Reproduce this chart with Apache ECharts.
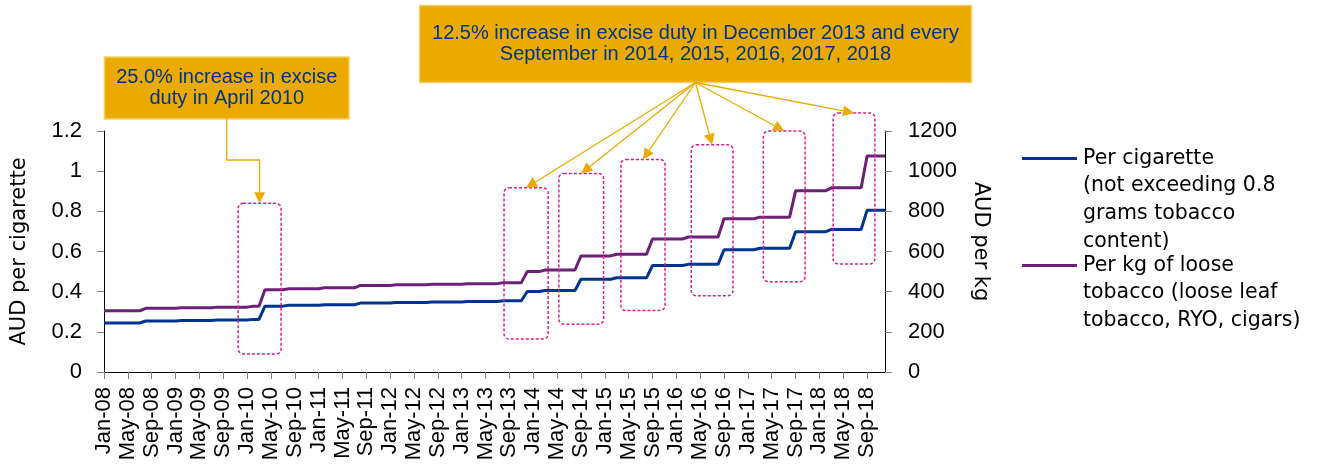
<!DOCTYPE html>
<html>
<head>
<meta charset="utf-8">
<script src="https://cdn.jsdelivr.net/npm/echarts@6/dist/echarts.min.js"></script>
<style>
  html, body { margin: 0; padding: 0; background: #fff; }
  #chart { width: 1327px; height: 466px; }
</style>
</head>
<body>
<div id="chart"></div>
<script>
// excise duty rates, monthly Jan-08 .. Dec-18

var months = ['Jan', 'Feb', 'Mar', 'Apr', 'May', 'Jun', 'Jul', 'Aug', 'Sep', 'Oct', 'Nov', 'Dec'];
var years = ['08', '09', '10', '11', '12', '13', '14', '15', '16', '17', '18'];

// AUD per cigarette (left axis)
var perCigarette = [
  0.244, 0.244, 0.244, 0.244, 0.244, 0.244, 0.244, 0.254, 0.254, 0.254, 0.254, 0.254,
  0.254, 0.256, 0.256, 0.256, 0.256, 0.256, 0.256, 0.259, 0.259, 0.259, 0.259, 0.259,
  0.259, 0.262, 0.262, 0.328, 0.328, 0.328, 0.328, 0.332, 0.332, 0.332, 0.332, 0.332,
  0.332, 0.335, 0.335, 0.335, 0.335, 0.335, 0.335, 0.343, 0.343, 0.343, 0.343, 0.343,
  0.343, 0.346, 0.346, 0.346, 0.346, 0.346, 0.346, 0.349, 0.349, 0.349, 0.349, 0.349,
  0.349, 0.351, 0.351, 0.351, 0.351, 0.351, 0.351, 0.355, 0.355, 0.355, 0.355, 0.401,
  0.401, 0.401, 0.406, 0.406, 0.406, 0.406, 0.406, 0.406, 0.462, 0.462, 0.462, 0.462,
  0.462, 0.462, 0.469, 0.469, 0.469, 0.469, 0.469, 0.469, 0.530, 0.530, 0.530, 0.530,
  0.530, 0.530, 0.536, 0.536, 0.536, 0.536, 0.536, 0.536, 0.609, 0.609, 0.609, 0.609,
  0.609, 0.609, 0.616, 0.616, 0.616, 0.616, 0.616, 0.616, 0.698, 0.698, 0.698, 0.698,
  0.698, 0.698, 0.710, 0.710, 0.710, 0.710, 0.710, 0.710, 0.806, 0.806, 0.806, 0.806
];

// AUD per kg of loose tobacco (right axis)
var perKg = [
  305, 305, 305, 305, 305, 305, 305, 317, 317, 317, 317, 317,
  317, 320, 320, 320, 320, 320, 320, 323, 323, 323, 323, 323,
  323, 327, 327, 410, 410, 410, 410, 415, 415, 415, 415, 415,
  415, 419, 419, 419, 419, 419, 419, 431, 431, 431, 431, 431,
  431, 434, 434, 434, 434, 434, 434, 437, 437, 437, 437, 437,
  437, 440, 440, 440, 440, 440, 440, 445, 445, 445, 445, 500,
  500, 500, 508, 508, 508, 508, 508, 508, 578, 578, 578, 578,
  578, 578, 586, 586, 586, 586, 586, 586, 662, 662, 662, 662,
  662, 662, 672, 672, 672, 672, 672, 672, 763, 763, 763, 763,
  763, 763, 771, 771, 771, 771, 771, 771, 902, 902, 902, 902,
  902, 902, 917, 917, 917, 917, 917, 917, 1076, 1076, 1076, 1076
];

// highlighted periods: month index span and AUD per kg span
var hikeFrom = [22.5, 67.1, 76.3, 86.7, 98.5, 110.6, 122.3];
var hikeTo = [29.7, 74.5, 83.8, 94.1, 105.5, 117.6, 129.3];
var hikeHigh = [840, 917, 989, 1058, 1131, 1200, 1290];
var hikeLow = [90, 164, 238, 306, 380, 450, 538];

var noteA = '25.0% increase in excise\nduty in April 2010';
var noteB = '12.5% increase in excise duty in December 2013 and every\nSeptember in 2014, 2015, 2016, 2017, 2018';
var nameCig = 'Per cigarette\n(not exceeding 0.8\ngrams tobacco\ncontent)';
var nameKg = 'Per kg of loose\ntobacco (loose leaf\ntobacco, RYO, cigars)';

var categories = [];
years.forEach(function (y) {
  months.forEach(function (m) { categories.push(m + '-' + y); });
});

var BLUE = '#00338D', PURPLE = '#6D2077', GOLD = '#EAAA00', PINK = '#DA1F8C';
var numFont = 'Liberation Sans';
var textFont = 'DejaVu Sans';

var chart = echarts.init(document.getElementById('chart'), null, { renderer: 'canvas' });

var option = {
  animation: false,
  backgroundColor: '#fff',
  grid: { left: 104, right: 442, top: 131, bottom: 94, containLabel: false },
  xAxis: {
    type: 'category',
    data: categories,
    boundaryGap: false,
    axisLine: { lineStyle: { color: '#000', width: 1 } },
    axisTick: { show: true, interval: 3, length: 7, lineStyle: { color: '#808080' } },
    axisLabel: { interval: 3, rotate: 90, margin: 15, fontSize: 22, fontFamily: numFont, color: '#000' },
    splitLine: { show: false }
  },
  yAxis: [
    {
      type: 'value', position: 'left', min: 0, max: 1.2, interval: 0.2,
      name: 'AUD per cigarette', nameLocation: 'middle', nameGap: 74, nameRotate: 90,
      nameTextStyle: { fontSize: 21, fontFamily: textFont, color: '#000' },
      axisLine: { show: true, lineStyle: { color: '#000' } },
      axisTick: { show: true, length: 7, lineStyle: { color: '#808080' } },
      axisLabel: { margin: 22, fontSize: 22, fontFamily: numFont, color: '#000' },
      splitLine: { show: false }
    },
    {
      type: 'value', position: 'right', min: 0, max: 1200, interval: 200,
      name: 'AUD per kg', nameLocation: 'middle', nameGap: 85, nameRotate: -90,
      nameTextStyle: { fontSize: 21, fontFamily: textFont, color: '#000', padding: [0, 20, 0, 0] },
      axisLine: { show: true, lineStyle: { color: '#000' } },
      axisTick: { show: true, length: 7, lineStyle: { color: '#808080' } },
      axisLabel: {
        margin: 23, fontSize: 22, fontFamily: numFont, color: '#000',
        formatter: function (v) { return String(v); }
      },
      splitLine: { show: false }
    }
  ],
  series: [
    {
      name: nameCig, type: 'line', yAxisIndex: 0, data: perCigarette,
      symbol: 'none', lineStyle: { color: BLUE, width: 3 }, itemStyle: { color: BLUE }, z: 3
    },
    {
      name: nameKg, type: 'line', yAxisIndex: 1, data: perKg,
      symbol: 'none', lineStyle: { color: PURPLE, width: 3 }, itemStyle: { color: PURPLE }, z: 3
    }
  ]
};

chart.setOption(option);

// pixel helpers on the chart's own scales
var last = categories.length - 1;
var px0 = chart.convertToPixel({ xAxisIndex: 0 }, 0);
var px1 = chart.convertToPixel({ xAxisIndex: 0 }, last);
function mx(m) { return px0 + (px1 - px0) * m / last; }
function ky(v) { return chart.convertToPixel({ yAxisIndex: 1 }, v); }

function arrowHead(x0, y0, x1, y1) {
  var dx = x1 - x0, dy = y1 - y0;
  var len = Math.sqrt(dx * dx + dy * dy);
  var ux = dx / len, uy = dy / len;
  var hl = 11, hw = 5.5;
  var bx = x1 - ux * hl, by = y1 - uy * hl;
  return {
    base: [bx, by],
    el: {
      type: 'polygon', z: 20,
      shape: { points: [[x1, y1], [bx - uy * hw, by + ux * hw], [bx + uy * hw, by - ux * hw]] },
      style: { fill: GOLD }
    }
  };
}

var g = [];

// dashed boxes
var tips = [];
for (var i = 0; i < hikeFrom.length; i++) {
  var x0 = mx(hikeFrom[i]), x1 = mx(hikeTo[i]);
  var y0 = ky(hikeHigh[i]), y1 = ky(hikeLow[i]);
  g.push({
    type: 'rect', z: 15,
    shape: { x: x0, y: y0, width: x1 - x0, height: y1 - y0, r: 5 },
    style: { fill: 'none', stroke: PINK, lineWidth: 1.5, lineDash: [3, 2] }
  });
  tips.push([(x0 + x1) / 2, y0]);
}

// note boxes
var boxA = { x: 104.5, y: 57, w: 244.5, h: 62 };
var boxB = { x: 419.5, y: 5.5, w: 552, h: 77 };
[boxA, boxB].forEach(function (b) {
  g.push({
    type: 'rect', z: 18,
    shape: { x: b.x, y: b.y, width: b.w, height: b.h },
    style: { fill: GOLD, stroke: '#F4CF6A', lineWidth: 1.5 }
  });
});
g.push({
  type: 'text', z: 19, x: boxA.x + boxA.w / 2, y: boxA.y + boxA.h / 2,
  style: { text: noteA, font: '20px "' + numFont + '"', fill: BLUE, align: 'center', verticalAlign: 'middle', lineHeight: 21.7 }
});
g.push({
  type: 'text', z: 19, x: boxB.x + boxB.w / 2, y: boxB.y + boxB.h / 2,
  style: { text: noteB, font: '20px "' + numFont + '"', fill: BLUE, align: 'center', verticalAlign: 'middle', lineHeight: 21.7 }
});

// elbow connector for the April 2010 note
var ax = boxA.x + boxA.w / 2, ay = boxA.y + boxA.h;
var t0 = tips[0];
var headA = arrowHead(t0[0], 160, t0[0], t0[1]);
g.push({
  type: 'polyline', z: 20,
  shape: { points: [[ax, ay], [ax, 160], [t0[0], 160], headA.base] },
  style: { stroke: GOLD, lineWidth: 1.3, fill: 'none' }
});
g.push(headA.el);

// fan of arrows for the 12.5% note
var ox = boxB.x + boxB.w / 2, oy = boxB.y + boxB.h;
for (var j = 1; j < tips.length; j++) {
  var h = arrowHead(ox, oy, tips[j][0], tips[j][1]);
  g.push({
    type: 'line', z: 20,
    shape: { x1: ox, y1: oy, x2: h.base[0], y2: h.base[1] },
    style: { stroke: GOLD, lineWidth: 1.3 }
  });
  g.push(h.el);
}

// legend
var lgFont = '20.5px "' + textFont + '"';
g.push({ type: 'line', z: 20, shape: { x1: 1022, y1: 158.5, x2: 1077, y2: 158.5 }, style: { stroke: BLUE, lineWidth: 3 } });
g.push({ type: 'text', z: 20, x: 1083, y: 144.7, style: { text: nameCig, font: lgFont, fill: '#000', verticalAlign: 'top', lineHeight: 27.6 } });
g.push({ type: 'line', z: 20, shape: { x1: 1022, y1: 265.5, x2: 1077, y2: 265.5 }, style: { stroke: PURPLE, lineWidth: 3 } });
g.push({ type: 'text', z: 20, x: 1083, y: 251.7, style: { text: nameKg, font: lgFont, fill: '#000', verticalAlign: 'top', lineHeight: 27.6 } });

chart.setOption({ graphic: g });
</script>
</body>
</html>
